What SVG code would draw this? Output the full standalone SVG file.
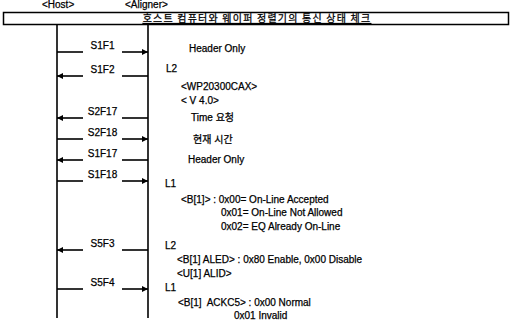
<svg xmlns="http://www.w3.org/2000/svg" width="513" height="321" viewBox="0 0 513 321">
<style>
text{font-family:"Liberation Sans","Noto Sans CJK KR",sans-serif;font-size:10px;fill:#000;stroke:#000;stroke-width:0.25}
.lbl{text-anchor:middle}
.ko{font-family:"Noto Sans CJK KR",sans-serif}
.ln{stroke:#000;stroke-width:1.6;fill:none}
.ar{stroke:#000;stroke-width:1.6;fill:none}
</style>
<defs>
<marker id="ah" viewBox="0 0 10 10" refX="10" refY="5" markerWidth="9" markerHeight="6" markerUnits="userSpaceOnUse" orient="auto">
<path d="M0,0 L10,5 L0,10 Z" fill="#000"/>
</marker>
</defs>
<rect width="513" height="321" fill="#fff"/>
<g id="host">
<text x="42" y="8" font-size="9">&lt;Host&gt;</text>
<line class="ln" x1="57" y1="25" x2="57" y2="318"/>
</g>
<g id="aligner">
<text x="125" y="8" font-size="9">&lt;Aligner&gt;</text>
<line class="ln" x1="148" y1="25" x2="148" y2="318"/>
</g>
<g id="title">
<rect x="3.5" y="12.5" width="505" height="12" fill="#fff" stroke="#000" stroke-width="1.5"/>
<text class="ko" x="257" y="22" text-anchor="middle" font-size="10" letter-spacing="1.2" text-decoration="underline">호스트 컴퓨터와 웨이퍼 정렬기의 통신 상태 체크</text>
</g>
<g id="connectors">
<line class="ar" x1="57" y1="52" x2="83" y2="52"/><line class="ar" x1="122" y1="52" x2="148" y2="52" marker-end="url(#ah)"/>
<text class="lbl" x="102.5" y="49">S1F1</text>
<line class="ar" x1="83" y1="76" x2="57" y2="76" marker-end="url(#ah)"/><line class="ar" x1="122" y1="76" x2="148" y2="76"/>
<text class="lbl" x="102.5" y="73">S1F2</text>
<line class="ar" x1="83" y1="118" x2="57" y2="118" marker-end="url(#ah)"/><line class="ar" x1="122" y1="118" x2="148" y2="118"/>
<text class="lbl" x="102.5" y="115">S2F17</text>
<line class="ar" x1="57" y1="139" x2="83" y2="139"/><line class="ar" x1="122" y1="139" x2="148" y2="139" marker-end="url(#ah)"/>
<text class="lbl" x="102.5" y="136">S2F18</text>
<line class="ar" x1="83" y1="160" x2="57" y2="160" marker-end="url(#ah)"/><line class="ar" x1="122" y1="160" x2="148" y2="160"/>
<text class="lbl" x="102.5" y="157">S1F17</text>
<line class="ar" x1="57" y1="181" x2="83" y2="181"/><line class="ar" x1="122" y1="181" x2="148" y2="181" marker-end="url(#ah)"/>
<text class="lbl" x="102.5" y="178">S1F18</text>
<line class="ar" x1="83" y1="250" x2="57" y2="250" marker-end="url(#ah)"/><line class="ar" x1="122" y1="250" x2="148" y2="250"/>
<text class="lbl" x="102.5" y="247">S5F3</text>
<line class="ar" x1="57" y1="289" x2="83" y2="289"/><line class="ar" x1="122" y1="289" x2="148" y2="289" marker-end="url(#ah)"/>
<text class="lbl" x="102.5" y="286">S5F4</text>
</g>
<g id="notes">
<text x="189" y="52">Header Only</text>
<text x="166" y="72">L2</text>
<text x="181" y="90">&lt;WP20300CAX&gt;</text>
<text x="181" y="104">&lt; V 4.0&gt;</text>
<text x="191" y="121">Time 요청</text>
<text x="193" y="143">현재 시간</text>
<text x="188" y="163">Header Only</text>
<text x="165" y="187">L1</text>
<text x="181" y="203">&lt;B[1]&gt; : 0x00= On-Line Accepted</text>
<text x="221" y="216">0x01= On-Line Not Allowed</text>
<text x="221" y="230">0x02= EQ Already On-Line</text>
<text x="165" y="249">L2</text>
<text x="177" y="263">&lt;B[1] ALED&gt; : 0x80 Enable, 0x00 Disable</text>
<text x="177" y="277">&lt;U[1] ALID&gt;</text>
<text x="165" y="291">L1</text>
<text x="178" y="306" xml:space="preserve">&lt;B[1]  ACKC5&gt; : 0x00 Normal</text>
<text x="234" y="319">0x01 Invalid</text>
</g>
</svg>
